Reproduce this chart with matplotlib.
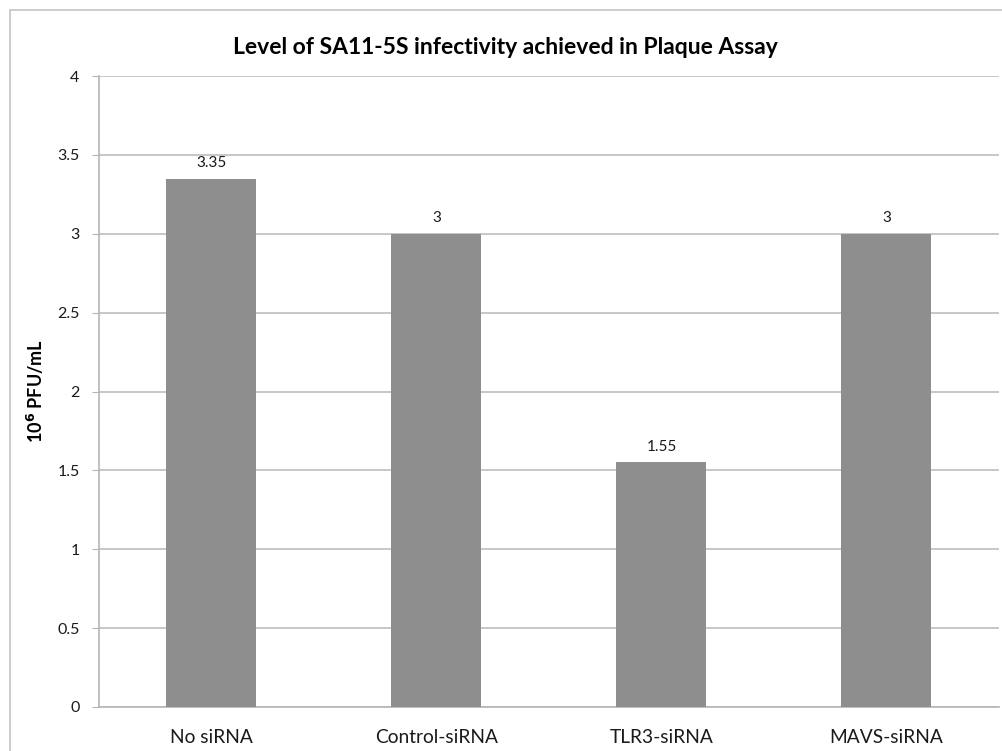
import numpy as np
import matplotlib.pyplot as plt
from matplotlib.patches import Rectangle

categories = ['No siRNA', 'Control-siRNA', 'TLR3-siRNA', 'MAVS-siRNA']
values = [3.35, 3.0, 1.55, 3.0]
value_labels = ['3.35', '3', '1.55', '3']
yticks = [0, 0.5, 1, 1.5, 2, 2.5, 3, 3.5, 4]
ytick_labels = ['0', '0.5', '1', '1.5', '2', '2.5', '3', '3.5', '4']

plt.rcParams['font.family'] = ['Lato', 'DejaVu Sans']

W, H = 1003, 751
fig = plt.figure(figsize=(W / 100, H / 100), dpi=100)
# outer chart frame, only left and top edges fall inside the image
fig.patches.append(Rectangle((10 / W, -0.2), 1.5, 1.2 - 10 / H,
                             transform=fig.transFigure, fill=False,
                             edgecolor='#c4c4c4', linewidth=1.2, zorder=0))

ax = fig.add_axes([99 / W, (H - 707) / H, 900 / W, (707 - 76) / H])
x = np.arange(len(categories))
ax.bar(x, values, width=0.4, color='#8e8e8e', zorder=3)
for xi, v, lab in zip(x, values, value_labels):
    ax.annotate(lab, (xi, v), xytext=(0, 6), textcoords='offset points',
                ha='center', va='bottom', fontsize=11, color='#1a1a1a')

ax.set_xlim(-0.5, len(categories) - 0.5)
ax.set_ylim(0, 4)
ax.set_yticks(yticks)
ax.set_yticklabels(ytick_labels)
ax.set_xticks(x)
ax.set_xticklabels(categories, fontsize=13.8, color='#1a1a1a')
ax.tick_params(axis='x', length=0, pad=16)
ax.tick_params(axis='y', length=5, color='#b5b5b5', labelsize=11.5, pad=9,
               labelcolor='#1a1a1a')
ax.yaxis.grid(True, color='#bdbdbd', linewidth=1.2, zorder=0)
for s in ['top', 'right']:
    ax.spines[s].set_visible(False)
for s in ['left', 'bottom']:
    ax.spines[s].set_color('#b5b5b5')
    ax.spines[s].set_linewidth(1.2)

ax.set_ylabel(r'10$^{\mathbf{6}}$ PFU/mL', fontsize=13, fontweight='bold', labelpad=8)
fig.text(505 / W, 1 - 48 / H, 'Level of SA11-5S infectivity achieved in Plaque Assay',
         ha='center', va='center', fontsize=16.5, fontweight='bold')

fig.savefig('out.png', dpi=100)
